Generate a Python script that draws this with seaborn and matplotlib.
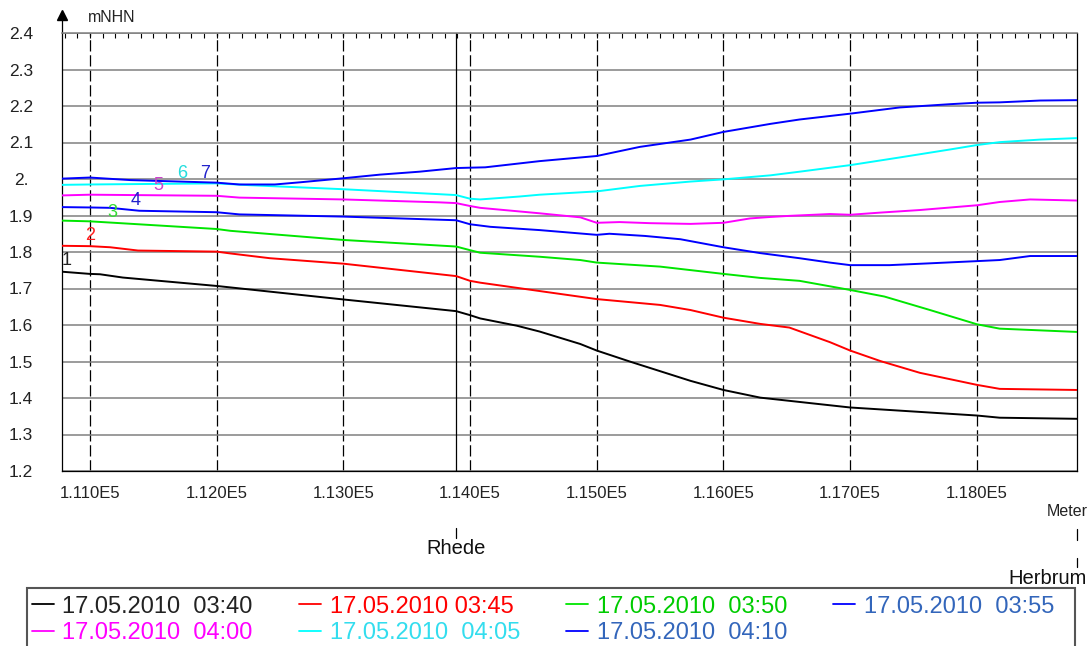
import numpy as np
import pandas as pd
import matplotlib
matplotlib.use("Agg")
import matplotlib.pyplot as plt
import matplotlib.transforms as mtrans
from matplotlib.lines import Line2D
from matplotlib.patches import Rectangle
from matplotlib.ticker import MultipleLocator, FixedLocator
import seaborn as sns

# ---------------- data ----------------
series_labels = ["17.05.2010  03:40", "17.05.2010 03:45", "17.05.2010  03:50",
                 "17.05.2010  03:55", "17.05.2010  04:00", "17.05.2010  04:05",
                 "17.05.2010  04:10"]
series_numbers = ["1", "2", "3", "4", "5", "6", "7"]

x1 = [110780, 111000, 111080, 111260, 112000, 113000, 113890, 114000, 114080, 114370, 114550,
      114870, 115000, 115260, 115740, 116000, 116290, 117000, 118000, 118180, 118790]
y1 = [1.746, 1.740, 1.739, 1.730, 1.707, 1.670, 1.638, 1.627, 1.618, 1.598, 1.582,
      1.548, 1.530, 1.500, 1.447, 1.422, 1.401, 1.374, 1.352, 1.346, 1.343]

x2 = [110780, 111000, 111160, 111380, 112000, 112110, 112420, 113000, 113890, 114000, 114080,
      114550, 115000, 115500, 115740, 116000, 116290, 116520, 116840, 117000, 117240, 117550,
      118000, 118180, 118790]
y2 = [1.817, 1.816, 1.813, 1.804, 1.801, 1.796, 1.783, 1.768, 1.734, 1.721, 1.716,
      1.693, 1.671, 1.655, 1.641, 1.620, 1.603, 1.593, 1.553, 1.530, 1.501, 1.469,
      1.436, 1.425, 1.422]

x3 = [110780, 111000, 111240, 112000, 112110, 113000, 113890, 114000, 114080, 114550, 114870,
      115000, 115500, 116000, 116290, 116600, 117000, 117270, 117630, 118000, 118180, 118790]
y3 = [1.886, 1.884, 1.879, 1.863, 1.858, 1.833, 1.815, 1.805, 1.798, 1.787, 1.778,
      1.771, 1.760, 1.740, 1.729, 1.721, 1.696, 1.678, 1.641, 1.602, 1.590, 1.581]

x4 = [110780, 111000, 111160, 111390, 112000, 112180, 113000, 113890, 114000, 114160, 114550,
      115000, 115100, 115380, 115660, 116000, 116290, 116600, 116840, 117000, 117310, 117630,
      118000, 118180, 118420, 118790]
y4 = [1.923, 1.922, 1.921, 1.913, 1.909, 1.903, 1.897, 1.887, 1.876, 1.869, 1.860,
      1.847, 1.850, 1.844, 1.835, 1.813, 1.797, 1.783, 1.771, 1.764, 1.764, 1.769,
      1.775, 1.778, 1.789, 1.789]

x5 = [110780, 111000, 112000, 112180, 113000, 113760, 113890, 114000, 114080, 114550, 114870,
      115000, 115180, 115420, 115740, 116000, 116210, 116370, 116520, 116840, 117000, 117240,
      117550, 118000, 118180, 118420, 118790]
y5 = [1.955, 1.957, 1.954, 1.949, 1.944, 1.936, 1.934, 1.926, 1.921, 1.906, 1.895,
      1.880, 1.882, 1.879, 1.877, 1.880, 1.892, 1.896, 1.899, 1.904, 1.902, 1.908,
      1.915, 1.928, 1.937, 1.944, 1.941]

x6 = [110780, 111000, 112000, 112260, 113000, 113890, 114000, 114080, 114390, 114550, 115000,
      115340, 115740, 116000, 116370, 116600, 117000, 117390, 117790, 118000, 118180, 118500,
      118790]
y6 = [1.984, 1.985, 1.988, 1.983, 1.972, 1.956, 1.946, 1.944, 1.952, 1.957, 1.966,
      1.981, 1.993, 1.999, 2.010, 2.020, 2.038, 2.059, 2.081, 2.093, 2.101, 2.108,
      2.112]

x7 = [110780, 111000, 111320, 112000, 112180, 112460, 112660, 113000, 113290, 113600, 113890,
      114000, 114120, 114550, 115000, 115340, 115740, 116000, 116370, 116600, 117000, 117390,
      117790, 118000, 118180, 118500, 118790]
y7 = [2.001, 2.004, 1.997, 1.990, 1.985, 1.985, 1.991, 2.002, 2.012, 2.020, 2.030,
      2.031, 2.032, 2.049, 2.063, 2.088, 2.108, 2.129, 2.151, 2.163, 2.179, 2.196,
      2.205, 2.209, 2.210, 2.215, 2.216]

number_x = [110820, 111000, 111180, 111360, 111540, 111730, 111910]
number_y = [1.778, 1.844, 1.907, 1.942, 1.981, 2.014, 2.016]

xtick_values = [111000, 112000, 113000, 114000, 115000, 116000, 117000, 118000]
xtick_labels = ["1.110E5", "1.120E5", "1.130E5", "1.140E5", "1.150E5", "1.160E5",
                "1.170E5", "1.180E5"]
ytick_values = [1.2, 1.3, 1.4, 1.5, 1.6, 1.7, 1.8, 1.9, 2.0, 2.1, 2.2, 2.3, 2.4]
ytick_labels = ["1.2", "1.3", "1.4", "1.5", "1.6", "1.7", "1.8", "1.9", "2.", "2.1",
                "2.2", "2.3", "2.4"]

station_names = ["Rhede", "Herbrum"]
station_positions = [113890, 118790]
x_range = [110780, 118790]
y_range = [1.2, 2.4]

# ---------------- styles ----------------
line_colors = ["#000000", "#ff0000", "#00e600", "#0000ff", "#ff00ff", "#00ffff", "#0000ff"]
text_colors = ["#222222", "#ff0000", "#00cc00", "#3366bb", "#ff00ff", "#33ddee", "#3366bb"]
number_colors = ["#222222", "#ff2020", "#33dd33", "#2222cc", "#cc44cc", "#22dddd", "#2222cc"]

sns.set_style("white")
plt.rcParams["font.family"] = ["Liberation Sans", "DejaVu Sans"]

xs = [x1, x2, x3, x4, x5, x6, x7]
ys = [y1, y2, y3, y4, y5, y6, y7]
frames = []
for lab, xv, yv in zip(series_labels, xs, ys):
    frames.append(pd.DataFrame({"m": xv, "mNHN": yv, "series": lab}))
df = pd.concat(frames, ignore_index=True)

W, H = 1090, 646
fig = plt.figure(figsize=(W / 100, H / 100), dpi=100)
L, R, T, B = 62, 1077, 33, 471
ax = fig.add_axes([L / W, 1 - B / H, (R - L) / W, (B - T) / H])

sns.lineplot(data=df, x="m", y="mNHN", hue="series", palette=dict(zip(series_labels, line_colors)),
             sort=False, estimator=None, legend=False, lw=1.4, ax=ax, zorder=3)

ax.set_xlim(*x_range)
ax.set_ylim(*y_range)
ax.set_xlabel("")
ax.set_ylabel("")

# y axis
ax.set_yticks(ytick_values)
ax.set_yticklabels(ytick_labels, ha="center")
ax.tick_params(axis="y", length=9.4, width=1.1, color="#808080", pad=20, labelsize=12.5,
               labelcolor="#222222")
ax.yaxis.grid(True, color="#808080", lw=1.1)
ax.set_axisbelow(True)

# x axis
ax.xaxis.set_major_locator(FixedLocator(xtick_values))
ax.set_xticklabels(xtick_labels)
ax.xaxis.set_minor_locator(MultipleLocator(100))
ax.tick_params(axis="x", which="major", direction="out", length=6.5, width=0.8, color="k",
               pad=4.5, labelsize=12, labelcolor="#222222")
ax.tick_params(axis="x", which="minor", direction="out", length=3.5, width=0.8, color="k")
ax.xaxis.grid(True, which="major", color="k", ls=(0, (9, 3)), lw=0.9)

sec = ax.secondary_xaxis("top")
sec.xaxis.set_major_locator(FixedLocator(xtick_values))
sec.xaxis.set_minor_locator(MultipleLocator(100))
sec.tick_params(which="both", direction="in", length=3.5, width=0.8, color="k",
                labeltop=False)
sec.spines["top"].set_visible(False)

for s in ["left", "right", "bottom"]:
    ax.spines[s].set_color("k")
    ax.spines[s].set_linewidth(0.9)
ax.spines["top"].set_color("#808080")
ax.spines["top"].set_linewidth(1.1)

# Rhede vertical line
ax.axvline(station_positions[0], color="k", lw=0.9, zorder=2)

# numbers on the lines
for t, xv, yv, c in zip(series_numbers, number_x, number_y, number_colors):
    ax.text(xv, yv, t, color=c, fontsize=13, ha="center", va="center", zorder=4)

# arrow & unit
ax.plot([0, 0], [1, 1 + 16 / (B - T)], transform=ax.transAxes, color="k", lw=0.9,
        clip_on=False)
ax.plot([0], [1 + 18 / (B - T)], marker="^", ms=7, color="k", transform=ax.transAxes,
        clip_on=False)
fig.text(88 / W, 1 - 17 / H, "mNHN", fontsize=11.5, va="center", ha="left", color="#222222")

# stations below axis
btr = mtrans.blended_transform_factory(ax.transData, fig.transFigure)
fy = lambda px: 1 - px / H
ax.plot([station_positions[0]] * 2, [fy(528), fy(538)], color="k", lw=0.9,
        transform=btr, clip_on=False)
ax.annotate(station_names[0], xy=(station_positions[0], fy(548)), xycoords=btr,
            ha="center", va="center", fontsize=14.5, color="#111111")
ax.plot([station_positions[1]] * 2, [fy(529), fy(540)], color="k", lw=0.9,
        transform=btr, clip_on=False)
ax.plot([station_positions[1]] * 2, [fy(558), fy(567)], color="k", lw=0.9,
        transform=btr, clip_on=False)
ax.annotate(station_names[1], xy=(station_positions[1], fy(578)), xycoords=btr,
            xytext=(10, 0), textcoords="offset pixels",
            ha="right", va="center", fontsize=14.5, color="#111111")
ax.annotate("Meter", xy=(station_positions[1], fy(511)), xycoords=btr,
            xytext=(11, 0), textcoords="offset pixels",
            ha="right", va="center", fontsize=11.5, color="#222222")

# legend (frame drawn separately so it runs past the bottom edge)
fig.patches.append(Rectangle((27 / W, fy(660)), (1075 - 27) / W, (660 - 588) / H,
                             transform=fig.transFigure, fill=False,
                             edgecolor="#555555", lw=1.5, zorder=1))
handles = [Line2D([], [], color=c, lw=1.3) for c in line_colors]
order = [0, 4, 1, 5, 2, 6, 3]
leg = fig.legend([handles[i] for i in order], [series_labels[i] for i in order],
                 ncol=4, loc="upper left", bbox_to_anchor=(27 / W, 1 - 591 / H),
                 frameon=False, fontsize=17,
                 handlelength=0.95, handletextpad=0.35, columnspacing=1.95,
                 borderpad=0.2, labelspacing=0.18, borderaxespad=0)
for txt, i in zip(leg.get_texts(), order):
    txt.set_color(text_colors[i])

fig.savefig("out.png", dpi=100)
